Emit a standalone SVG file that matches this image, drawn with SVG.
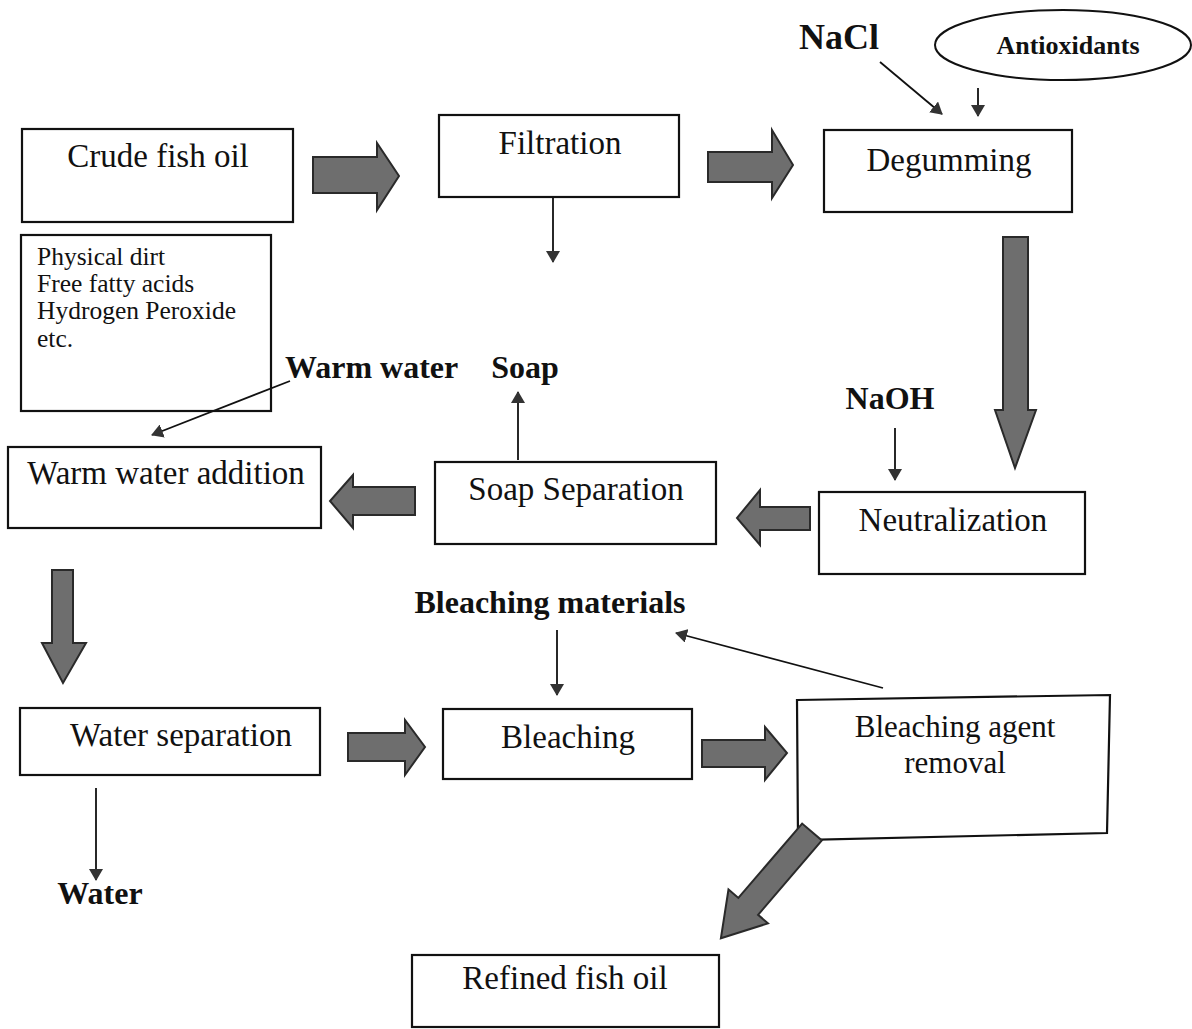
<svg xmlns="http://www.w3.org/2000/svg" width="1192" height="1029" viewBox="0 0 1192 1029">
<style>
.box{fill:#fff;stroke:#111;stroke-width:2.2}
.lbl{font-family:"Liberation Serif",serif;font-size:33px;fill:#111;text-anchor:middle}
.small{font-family:"Liberation Serif",serif;font-size:25.5px;fill:#111}
.bold{font-family:"Liberation Serif",serif;font-size:32px;font-weight:bold;fill:#111}
.blk{fill:#6e6e6e;stroke:#2a2a2a;stroke-width:2;stroke-linejoin:miter}
.thin{stroke:#111;stroke-width:1.8;fill:none;marker-end:url(#ah)}
</style>
<defs>
<marker id="ah" viewBox="0 0 12 14" refX="11" refY="7" markerWidth="12" markerHeight="14" markerUnits="userSpaceOnUse" orient="auto">
<path d="M0,0 L12,7 L0,14 z" fill="#333"/>
</marker>
</defs>
<rect width="1192" height="1029" fill="#fff"/>

<g id="crude"><rect class="box" x="22" y="129" width="271" height="93"/><text class="lbl" x="158" y="167">Crude fish oil</text></g>
<g id="impurities"><rect class="box" x="21" y="235" width="250" height="176"/>
<text class="small" x="37" y="265">Physical dirt</text>
<text class="small" x="37" y="292">Free fatty acids</text>
<text class="small" x="37" y="319">Hydrogen Peroxide</text>
<text class="small" x="37" y="347">etc.</text></g>
<g id="filtration"><rect class="box" x="439" y="115" width="240" height="82"/><text class="lbl" x="560" y="154">Filtration</text></g>
<g id="degumming"><rect class="box" x="824" y="130" width="248" height="82"/><text class="lbl" x="949" y="171">Degumming</text></g>
<g id="antioxidants"><ellipse cx="1063" cy="45" rx="128" ry="35" fill="#fff" stroke="#111" stroke-width="2"/><text class="bold" style="font-size:26px" x="1068" y="54" text-anchor="middle">Antioxidants</text></g>
<g id="nacl"><text class="bold" style="font-size:36px" x="799" y="49">NaCl</text></g>
<g id="naoh"><text class="bold" x="890" y="409" text-anchor="middle">NaOH</text></g>
<g id="neutralization"><rect class="box" x="819" y="492" width="266" height="82"/><text class="lbl" x="953" y="531">Neutralization</text></g>
<g id="soapsep"><rect class="box" x="435" y="462" width="281" height="82"/><text class="lbl" x="576" y="500">Soap Separation</text></g>
<g id="soap"><text class="bold" x="525" y="378" text-anchor="middle">Soap</text></g>
<g id="warmwater"><text class="bold" x="285" y="378">Warm water</text></g>
<g id="warmadd"><rect class="box" x="8" y="447" width="313" height="81"/><text class="lbl" x="166" y="484">Warm water addition</text></g>
<g id="bleachmat"><text class="bold" x="550" y="613" text-anchor="middle">Bleaching materials</text></g>
<g id="watersep"><rect class="box" x="20" y="708" width="300" height="67"/><text class="lbl" x="181" y="746">Water separation</text></g>
<g id="water"><text class="bold" x="100" y="904" text-anchor="middle">Water</text></g>
<g id="bleaching"><rect class="box" x="443" y="709" width="249" height="70"/><text class="lbl" x="568" y="748">Bleaching</text></g>
<g id="bar"><path class="box" d="M797,700 L1110,695 L1107,833 L798,840 Z"/><text class="lbl" style="font-size:31px" x="955" y="737">Bleaching agent</text><text class="lbl" style="font-size:31px" x="955" y="773">removal</text></g>
<g id="refined"><rect class="box" x="412" y="955" width="307" height="72"/><text class="lbl" x="565" y="989">Refined fish oil</text></g>

<g id="connectors">
<polygon class="blk" points="313,157 377,157 377,143 399,176 377,210 377,193 313,193"/>
<polygon class="blk" points="708,152 772,152 772,130 793,165 772,198 772,182 708,182"/>
<polygon class="blk" points="1003,237 1028,237 1028,410 1036,410 1015,468 995,410 1003,410"/>
<polygon class="blk" points="810,507 760,507 760,490 737,518 760,545 760,530 810,530"/>
<polygon class="blk" points="415,487 353,487 353,475 330,501 353,528 353,515 415,515"/>
<polygon class="blk" points="52,570 73,570 73,643 86,643 63,683 42,643 52,643"/>
<polygon class="blk" points="348,733 405,733 405,720 425,747 405,775 405,761 348,761"/>
<polygon class="blk" points="702,740 765,740 765,727 787,753 765,780 765,767 702,767"/>
<polygon class="blk" transform="translate(812,832) rotate(130.6)" points="0,-13 98,-13 98,-26 140,0 98,26 98,13 0,13"/>
<line class="thin" x1="880" y1="62" x2="942" y2="114"/>
<line class="thin" x1="978" y1="88" x2="978" y2="116"/>
<line class="thin" x1="553" y1="197" x2="553" y2="262"/>
<line class="thin" x1="895" y1="428" x2="895" y2="480"/>
<line class="thin" x1="518" y1="460" x2="518" y2="392"/>
<line class="thin" x1="290" y1="381" x2="152" y2="435"/>
<line class="thin" x1="96" y1="788" x2="96" y2="880"/>
<line class="thin" x1="557" y1="630" x2="557" y2="695"/>
<line class="thin" x1="883" y1="688" x2="676" y2="633"/>
</g>
</svg>
